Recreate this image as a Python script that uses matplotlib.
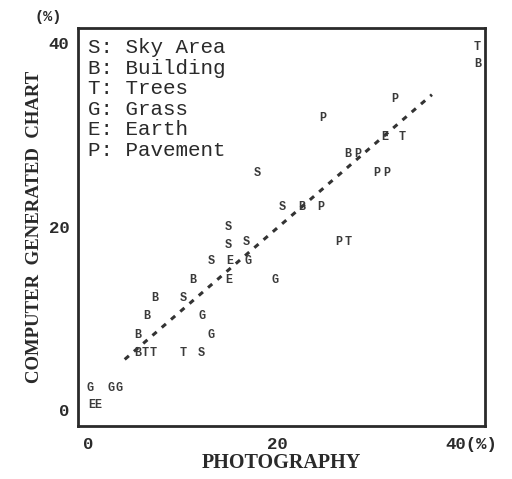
import matplotlib
matplotlib.use("Agg")
import matplotlib.pyplot as plt
import matplotlib.transforms as mtransforms

# data: category letter, photography (%), computer generated chart (%)
letters = ["S", "S", "S", "S", "E", "G", "B", "E", "G", "B", "S", "B", "G", "B", "G",
           "B", "T", "T", "T", "S", "G", "G", "G", "E", "E",
           "P", "P", "E", "T", "B", "P", "S", "P", "P", "S", "B", "P", "P", "T", "T", "B"]
photo = [14.9, 14.9, 16.8, 13.1, 15.0, 16.9, 11.1, 14.9, 19.8, 7.1, 10.1, 6.2, 12.1, 5.3, 13.0,
         5.3, 6.1, 6.9, 10.1, 12.0, 0.2, 2.4, 3.3, 0.4, 1.1,
         32.5, 24.8, 31.4, 33.3, 27.5, 28.5, 17.9, 30.6, 31.6, 20.6, 22.6, 24.6, 26.5, 27.5, 41.2, 41.2]
chart = [20.0, 18.0, 18.3, 16.2, 16.2, 16.2, 14.2, 14.2, 14.2, 12.2, 12.2, 10.2, 10.2, 8.2, 8.2,
         6.2, 6.2, 6.2, 6.2, 6.2, 2.4, 2.4, 2.4, 0.5, 0.5,
         33.9, 31.9, 29.8, 29.8, 27.9, 27.9, 25.9, 25.9, 25.9, 22.1, 22.1, 22.1, 18.3, 18.3, 39.6, 37.7]
fit_x = [3.9, 36.4]
fit_y = [5.5, 34.4]
legend_lines = ["S: Sky Area", "B: Building", "T: Trees", "G: Grass", "E: Earth", "P: Pavement"]
xticks = [0, 20, 40]
xticklabels = ["0", "20", "40(%)"]
yticks = [0, 20, 40]
yticklabels = ["0", "20", "40"]

ink = "#2a2a2a"
fig = plt.figure(figsize=(5.12, 4.79), dpi=100)
ax = fig.add_axes([0.152, 0.111, 0.795, 0.831])
ax.set_xlim(-1.06, 42.0)
ax.set_ylim(-1.75, 41.7)

for s in ax.spines.values():
    s.set_linewidth(2.0)
    s.set_color(ink)

for l, x, y in zip(letters, photo, chart):
    ax.text(x, y, l, ha="center", va="center", fontsize=8.5, fontweight="bold",
            family="Liberation Mono", color="#3a3a3a")

ax.plot(fit_x, fit_y, linestyle=(0, (1.8, 2.2)), color="#333333", linewidth=2.2)

for i, t in enumerate(legend_lines):
    ax.text(0.025, 0.950 - i * 0.0515, t, transform=ax.transAxes, ha="left", va="center",
            fontsize=15, family="Liberation Mono", color=ink)

ax.set_xticks(xticks)
ax.set_xticklabels(xticklabels, family="Liberation Mono", fontsize=12.5,
                   fontweight="bold", color=ink)
ax.set_yticks(yticks)
ax.set_yticklabels(yticklabels, family="Liberation Mono", fontsize=12.5,
                   fontweight="bold", color=ink)
ax.tick_params(length=0)
ax.tick_params(axis="x", pad=8)
ax.tick_params(axis="y", pad=6)
last = ax.get_xticklabels()[-1]
last.set_horizontalalignment("left")
last.set_transform(last.get_transform() +
                   mtransforms.ScaledTranslation(-0.21, 0, fig.dpi_scale_trans))

ax.set_xlabel("PHOTOGRAPHY", family="Liberation Serif", fontsize=14.5, fontweight="bold",
              color=ink, labelpad=1)
ax.set_ylabel("COMPUTER  GENERATED  CHART", family="Liberation Serif", fontsize=13.5,
              fontweight="bold", color=ink, labelpad=4)
fig.text(0.068, 0.965, "(%)", family="Liberation Mono", fontsize=11, fontweight="bold",
         color=ink, ha="left", va="center")

fig.savefig("out.png", dpi=100)
